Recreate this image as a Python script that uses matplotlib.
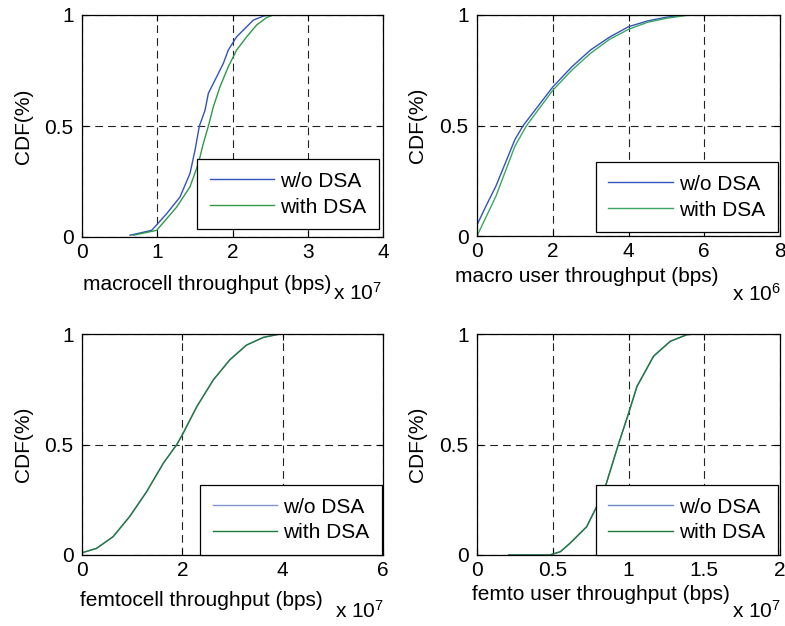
import matplotlib
matplotlib.use("Agg")
import matplotlib.pyplot as plt

plt.rcParams['font.family'] = ['Liberation Sans', 'DejaVu Sans']
plt.rcParams['mathtext.fontset'] = 'custom'
plt.rcParams['mathtext.rm'] = 'Liberation Sans'
plt.rcParams['mathtext.it'] = 'Liberation Sans'

# ---------------- data (x in axis units, cdf 0..1) ----------------
# macrocell throughput (x 1e7)
macro_wo_x   = [0.638, 0.926, 1.125, 1.302, 1.435, 1.502, 1.559, 1.635, 1.679, 1.790, 1.878, 1.944, 2.055, 2.144, 2.277, 2.410, 2.476, 3.03]
macro_wo_cdf = [0.008, 0.030, 0.105, 0.180, 0.286, 0.391, 0.499, 0.571, 0.647, 0.722, 0.782, 0.842, 0.902, 0.932, 0.977, 0.995, 1.000, 1.000]
macro_w_x    = [0.682, 0.992, 1.258, 1.435, 1.546, 1.612, 1.679, 1.745, 1.834, 1.944, 2.055, 2.189, 2.321, 2.455, 2.543, 3.03]
macro_w_cdf  = [0.008, 0.030, 0.135, 0.226, 0.331, 0.421, 0.499, 0.586, 0.677, 0.767, 0.842, 0.902, 0.955, 0.989, 1.000, 1.000]

# macro user throughput (x 1e6)
mu_wo_x   = [0.0, 0.25, 0.5, 1.0, 1.22, 2.0, 2.5, 3.0, 3.5, 4.0, 4.5, 5.0, 5.44, 6.37]
mu_wo_cdf = [0.05, 0.14, 0.226, 0.436, 0.50, 0.674, 0.765, 0.842, 0.90, 0.947, 0.973, 0.99, 1.0, 1.0]
mu_w_x    = [0.0, 0.25, 0.5, 1.0, 1.31, 2.0, 2.5, 3.0, 3.5, 4.0, 4.5, 5.0, 5.6, 6.37]
mu_w_cdf  = [0.0, 0.09, 0.18, 0.406, 0.50, 0.659, 0.75, 0.827, 0.89, 0.935, 0.967, 0.985, 1.0, 1.0]

# femtocell throughput (x 1e7)
fc_wo_x   = [0.0, 0.29, 0.62, 0.95, 1.29, 1.62, 1.89, 2.0, 2.29, 2.62, 2.95, 3.28, 3.62, 3.95]
fc_wo_cdf = [0.01, 0.03, 0.083, 0.174, 0.287, 0.415, 0.50, 0.544, 0.672, 0.793, 0.884, 0.95, 0.985, 1.0]
fc_w_x    = [0.0, 0.29, 0.62, 0.95, 1.29, 1.62, 1.89, 2.0, 2.29, 2.62, 2.95, 3.28, 3.62, 3.95]
fc_w_cdf  = [0.01, 0.03, 0.083, 0.174, 0.287, 0.415, 0.50, 0.544, 0.672, 0.793, 0.884, 0.95, 0.985, 1.0]

# femto user throughput (x 1e7)
fu_wo_x   = [0.21, 0.48, 0.55, 0.614, 0.724, 0.834, 0.933, 1.0, 1.056, 1.166, 1.276, 1.386, 1.45]
fu_wo_cdf = [0.0, 0.0, 0.015, 0.053, 0.128, 0.28, 0.50, 0.64, 0.763, 0.90, 0.967, 0.997, 1.0]
fu_w_x    = [0.21, 0.48, 0.55, 0.614, 0.724, 0.834, 0.933, 1.0, 1.056, 1.166, 1.276, 1.386, 1.45]
fu_w_cdf  = [0.0, 0.0, 0.015, 0.053, 0.128, 0.28, 0.50, 0.64, 0.763, 0.90, 0.967, 0.997, 1.0]

series_labels = ["w/o DSA", "with DSA"]
ylabel = "CDF(%)"
yticks = [0, 0.5, 1]
ytick_labels = ["0", "0.5", "1"]

panels = [
    dict(wo=(macro_wo_x, macro_wo_cdf), w=(macro_w_x, macro_w_cdf),
         xticks=[0, 1, 2, 3, 4], xticklabels=["0", "1", "2", "3", "4"],
         xlabel="macrocell throughput (bps)", exp="7"),
    dict(wo=(mu_wo_x, mu_wo_cdf), w=(mu_w_x, mu_w_cdf),
         xticks=[0, 2, 4, 6, 8], xticklabels=["0", "2", "4", "6", "8"],
         xlabel="macro user throughput (bps)", exp="6"),
    dict(wo=(fc_wo_x, fc_wo_cdf), w=(fc_w_x, fc_w_cdf),
         xticks=[0, 2, 4, 6], xticklabels=["0", "2", "4", "6"],
         xlabel="femtocell throughput (bps)", exp="7"),
    dict(wo=(fu_wo_x, fu_wo_cdf), w=(fu_w_x, fu_w_cdf),
         xticks=[0, 0.5, 1, 1.5, 2], xticklabels=["0", "0.5", "1", "1.5", "2"],
         xlabel="femto user throughput (bps)", exp="7"),
]

# ---------------- layout (pixels) ----------------
W, H = 785, 626
fig = plt.figure(figsize=(W / 100, H / 100), dpi=100)

def fx(px):
    return px / W

def fy(py):
    return 1 - py / H

ax_px = [(82, 15, 383, 237), (477, 15, 780, 236), (82, 334, 383, 555), (477, 334, 780, 555)]
xlabel_pos = [(83, 284), (455, 277), (80, 600), (472, 595)]
exp_pos = [(333, 293), (732, 294), (335, 611), (732, 611)]
ylabel_x = [23, 418, 23, 418]
leg_anchor = [(0.987, 0.036), (0.993, 0.018), (0.997, 0.0), (0.993, 0.0)]
blue_cols = ['#3352bd', '#3352bd', '#8094cf', '#6f86c8']
green_cols = ['#2e9a46', '#3aa860', '#1f7a3c', '#1f7a3c']

FS = 15
for i, p in enumerate(panels):
    l, t, r, b = ax_px[i]
    ax = fig.add_axes([fx(l), fy(b), fx(r - l), (b - t) / H])
    ax.plot(p['wo'][0], p['wo'][1], color=blue_cols[i], lw=1.0, label=series_labels[0])
    ax.plot(p['w'][0], p['w'][1], color=green_cols[i], lw=1.0, label=series_labels[1])
    ax.set_xlim(p['xticks'][0], p['xticks'][-1])
    ax.set_ylim(0, 1)
    ax.set_xticks(p['xticks'])
    ax.set_xticklabels(p['xticklabels'])
    ax.set_yticks(yticks)
    ax.set_yticklabels(ytick_labels)
    ax.tick_params(direction='in', length=4, width=0.8, labelsize=FS, top=True, right=True, pad=4)
    ax.tick_params(axis='y', pad=6)
    ax.grid(True, color='#222222', linestyle=(0, (7, 4.5)), linewidth=0.8)
    for s in ax.spines.values():
        s.set_linewidth(0.9)
    leg = ax.legend(loc='lower right', bbox_to_anchor=leg_anchor[i], fontsize=FS,
                    handlelength=3.1, handletextpad=0.3, labelspacing=0.33,
                    borderpad=0.6, borderaxespad=0.0, fancybox=False,
                    frameon=True, edgecolor='black', framealpha=1)
    leg.get_frame().set_linewidth(0.9)
    fig.text(fx(xlabel_pos[i][0]), fy(xlabel_pos[i][1]), p['xlabel'], ha='left', va='center', fontsize=FS)
    fig.text(fx(exp_pos[i][0]), fy(exp_pos[i][1]), r'x 10$^{%s}$' % p['exp'], ha='left', va='center', fontsize=FS)
    fig.text(fx(ylabel_x[i]), fy((t + b) / 2), ylabel, rotation=90, ha='center', va='center', fontsize=FS)

fig.savefig('out.png', dpi=100)
